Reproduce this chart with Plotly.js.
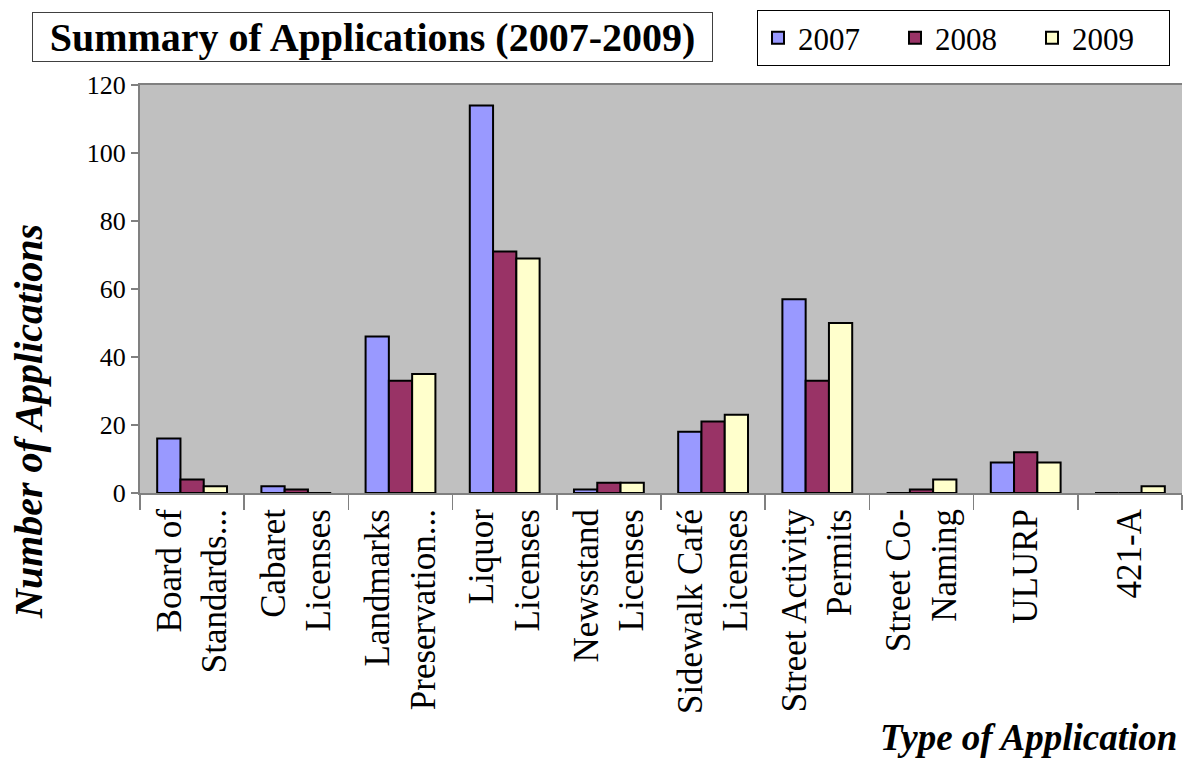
<!DOCTYPE html>
<html>
<head>
<meta charset="utf-8">
<script src="https://cdn.plot.ly/plotly-3.0.1.min.js"></script>
<style>html,body{margin:0;padding:0;background:#fff;}#chart{width:1183px;height:759px;}</style>
</head>
<body>
<div id="chart"></div>
<script>
const categories = ["Board of Standards...", "Cabaret Licenses", "Landmarks Preservation...", "Liquor Licenses", "Newsstand Licenses", "Sidewalk Café Licenses", "Street Activity Permits", "Street Co-Naming", "ULURP", "421-A"];
const tickLabels = ["Board of<br>Standards...", "Cabaret<br>Licenses", "Landmarks<br>Preservation...", "Liquor<br>Licenses", "Newsstand<br>Licenses", "Sidewalk Café<br>Licenses", "Street Activity<br>Permits", "Street Co-<br>Naming", "ULURP", "421-A"];
const seriesNames = ["2007", "2008", "2009"];
const values2007 = [16, 2, 46, 114, 1, 18, 57, 0, 9, 0];
const values2008 = [4, 1, 33, 71, 3, 21, 33, 1, 12, 0];
const values2009 = [2, 0, 35, 69, 3, 23, 50, 4, 9, 2];
const yTicks = [0, 20, 40, 60, 80, 100, 120];

const colors = ["#9999FF", "#993366", "#FFFFCC"];
const FONT = "Liberation Serif, Times New Roman, serif";
const allValues = [values2007, values2008, values2009];

const traces = allValues.map((vals, i) => ({
  type: "bar",
  name: seriesNames[i],
  x: categories,
  y: vals,
  marker: {color: colors[i], line: {color: "#000", width: 2}},
  hoverinfo: "x+y+name"
}));

// plot area in pixels: left 140, right 1182, top 85, bottom 493
const L = 140, R = 1182, T = 85, B = 493;
const px = v => (v - L) / (R - L);
const py = v => (B - v) / (B - T);

const layout = {
  width: 1183, height: 759,
  margin: {l: L, r: 1183 - R, t: T, b: 759 - B, pad: 0},
  paper_bgcolor: "#ffffff",
  plot_bgcolor: "#C0C0C0",
  barmode: "group",
  bargap: 0.33,
  bargroupgap: 0,
  font: {family: FONT, color: "#000"},
  showlegend: true,
  legend: {
    orientation: "h",
    x: px(757), y: py(10), xanchor: "left", yanchor: "top",
    bgcolor: "#fff", bordercolor: "#000", borderwidth: 1,
    font: {family: FONT, size: 31, color: "#000"},
    entrywidth: 92, entrywidthmode: "pixels",
    traceorder: "normal"
  },
  xaxis: {
    type: "category",
    tickvals: categories,
    ticktext: tickLabels,
    tickson: "boundaries",
    ticks: "outside", ticklen: 15, tickcolor: "#808080", tickwidth: 1.5,
    tickangle: -90,
    tickfont: {family: FONT, size: 35, color: "#000"},
    showline: true, linecolor: "#808080", linewidth: 2, mirror: true,
    showgrid: false, zeroline: false, automargin: false
  },
  yaxis: {
    range: [0, 120],
    tickvals: yTicks,
    ticks: "outside", ticklen: 7, tickcolor: "#808080", tickwidth: 1.5,
    tickfont: {family: FONT, size: 26, color: "#000"},
    showline: true, linecolor: "#808080", linewidth: 2,
    showgrid: false, zeroline: false, automargin: false
  },
  annotations: [
    {
      text: "<b>Summary of Applications (2007-2009)</b>",
      xref: "paper", yref: "paper",
      x: px(32), y: py(12), xanchor: "left", yanchor: "top",
      width: 679, height: 48, align: "center", valign: "middle",
      showarrow: false, bgcolor: "#fff",
      bordercolor: "#404040", borderwidth: 1, borderpad: 0,
      font: {family: FONT, size: 40, color: "#000"}
    },
    {
      text: "<b><i>Number of Applications</i></b>",
      xref: "paper", yref: "paper",
      x: px(28), y: py(422), xanchor: "center", yanchor: "middle",
      textangle: -90, showarrow: false,
      font: {family: FONT, size: 40, color: "#000"}
    },
    {
      text: "<b><i>Type of Application</i></b>",
      xref: "paper", yref: "paper",
      x: px(1179), y: py(737), xanchor: "right", yanchor: "middle",
      showarrow: false,
      font: {family: FONT, size: 37, color: "#000"}
    }
  ]
};

Plotly.newPlot("chart", traces, layout, {displayModeBar: false, staticPlot: true});
</script>
</body>
</html>
